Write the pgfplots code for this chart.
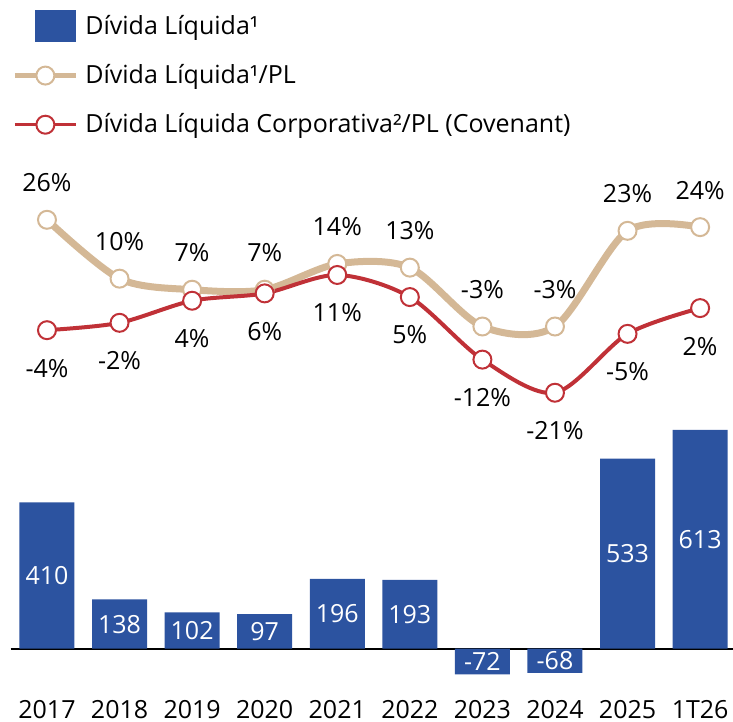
\documentclass[border=0pt]{standalone}
\usepackage{fontspec}
\setmainfont{Open Sans}
\usepackage{pgfplots}
\pgfplotsset{compat=1.18}
\definecolor{barblue}{RGB}{44,83,160}
\definecolor{tanline}{RGB}{212,184,150}
\definecolor{covred}{RGB}{192,49,55}

\tikzset{lbl/.style={font=\fontsize{12.5}{15}\selectfont, text=black, anchor=center}}

\begin{document}
\begin{tikzpicture}[font=\fontsize{12.5}{15}\selectfont]
\pgfplotsset{
  base/.style={width=363pt, height=278.5pt, scale only axis,
    xmin=-0.5, xmax=9.5, axis line style={draw=none},
    major tick length=0pt, ytick=\empty, clip=false},
  linelegend/.style={legend image code/.code={%
    \draw[mark repeat=2, mark phase=2, ##1] plot coordinates {(0pt,0pt) (15.25pt,0pt) (30.5pt,0pt)};}},
}
% bars
\begin{axis}[base, name=ax, ymin=-134.5, ymax=1425.8,
  xtick={0,...,9},
  xticklabels={2017,2018,2019,2020,2021,2022,2023,2024,2025,1T26},
  xticklabel style={anchor=base, yshift=-11pt, font=\fontsize{12.5}{15}\selectfont},
  extra y ticks={0}, extra y tick labels={},
  extra y tick style={grid=major, major grid style={black, line width=1pt}},
  legend style={at={(0,1)}, anchor=north west, xshift=0.65pt, yshift=65.5pt,
    draw=none, fill=none, inner sep=0pt, row sep=7.5pt, column sep=0.5pt,
    nodes={inner sep=3pt}, font=\fontsize{12.5}{15}\selectfont},
  legend cell align=left,
]
\addplot[ybar, bar width=27.5pt, fill=barblue, draw=none,
  legend image code/.code={\fill[barblue] (10pt,-8pt) rectangle (30.5pt,8pt);}]
  coordinates {(0,410) (1,138) (2,102) (3,97) (4,196) (5,193) (6,-72) (7,-68) (8,533) (9,613)};
\addlegendentry{Dívida Líquida¹}
\addlegendimage{linelegend, tanline, line width=2.5pt, mark=*, mark size=4.5pt,
  mark options={fill=white, draw=tanline, line width=1pt}}
\addlegendentry{Dívida Líquida¹/PL}
\addlegendimage{linelegend, covred, line width=1.5pt, mark=*, mark size=4.5pt,
  mark options={fill=white, draw=covred, line width=1pt}}
\addlegendentry{Dívida Líquida Corporativa²/PL (Covenant)}
% value labels in the middle of the bars
\addplot[draw=none, mark=none, nodes near coords, point meta=explicit symbolic,
  nodes near coords style={lbl, text=white}]
  coordinates {(0,205) [410] (1,69) [138] (2,51) [102] (3,48.5) [97] (4,98) [196]
    (5,96.5) [193] (6,-36) [-72] (7,-34) [-68] (8,266.5) [533] (9,306.5) [613]};
\end{axis}
% ratios
\begin{axis}[base, ymin=-103.6, ymax=47.7, xtick=\empty]
\addplot[tanline, line width=3.5pt, smooth, mark=*, mark size=4.5pt,
  mark options={fill=white, draw=tanline, line width=1pt},
  nodes near coords, point meta=explicit symbolic,
  nodes near coords style={lbl, yshift=18.5pt}]
  coordinates {(0,26) [26\%] (1,10) [10\%] (2,7) [7\%] (3,7) [7\%] (4,14) [14\%]
    (5,13) [13\%] (6,-3) [-3\%] (7,-3) [-3\%] (8,23) [23\%] (9,24) [24\%]};
\addplot[covred, line width=2pt, smooth, mark=*, mark size=4.5pt,
  mark options={fill=white, draw=covred, line width=1pt},
  nodes near coords, point meta=explicit symbolic,
  nodes near coords style={lbl, yshift=-19pt}]
  coordinates {(0,-4) [-4\%] (1,-2) [-2\%] (2,4) [4\%] (3,6) [6\%] (4,11) [11\%]
    (5,5) [5\%] (6,-12) [-12\%] (7,-21) [-21\%] (8,-5) [-5\%] (9,2) [2\%]};
\end{axis}
\pgfresetboundingbox
\path[use as bounding box] ([xshift=-5.35pt, yshift=-12.5pt]ax.south west)
  rectangle ([xshift=-1.7pt, yshift=70pt]ax.north east);
\end{tikzpicture}
\end{document}
